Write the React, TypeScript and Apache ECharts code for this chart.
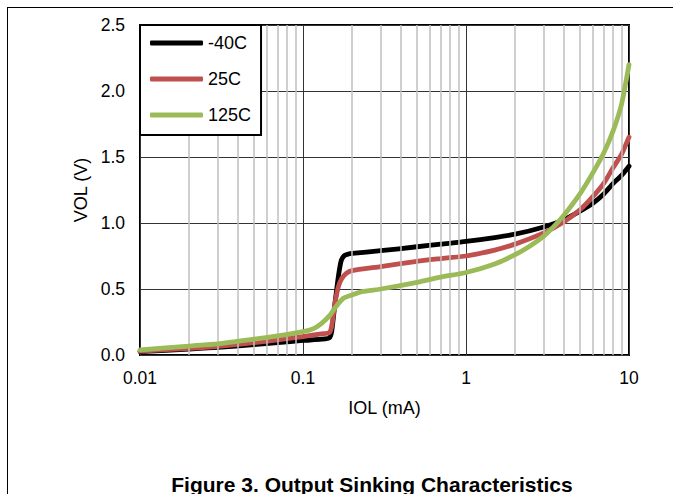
import React, { useEffect, useRef } from "react";
import * as echarts from "echarts";

const seriesNames = ["-40C", "25C", "125C"];
const seriesColors = ["#000000", "#C0504D", "#9BBB59"];

const coldData: [number, number][] = [
  [0.01, 0.025], [0.02, 0.045], [0.03, 0.058], [0.05, 0.078], [0.07, 0.093],
  [0.1, 0.11], [0.13, 0.12], [0.145, 0.13], [0.15, 0.18], [0.157, 0.39],
  [0.165, 0.6], [0.172, 0.72], [0.18, 0.755], [0.19, 0.765], [0.2, 0.77],
  [0.3, 0.79], [0.5, 0.82], [0.7, 0.84], [1, 0.86], [1.5, 0.89], [2, 0.915],
  [3, 0.97], [4, 1.025], [5, 1.09], [6, 1.15], [7, 1.22], [8, 1.3], [9, 1.36],
  [10, 1.43],
];

const roomData: [number, number][] = [
  [0.01, 0.03], [0.02, 0.05], [0.03, 0.065], [0.05, 0.093], [0.07, 0.115],
  [0.1, 0.14], [0.13, 0.16], [0.145, 0.17], [0.15, 0.22], [0.157, 0.39],
  [0.165, 0.52], [0.173, 0.58], [0.185, 0.62], [0.2, 0.64], [0.3, 0.67],
  [0.5, 0.71], [0.7, 0.73], [1, 0.75], [1.5, 0.795], [2, 0.84], [3, 0.925],
  [4, 1.01], [5, 1.1], [6, 1.2], [7, 1.3], [8, 1.42], [9, 1.52], [10, 1.65],
];

const hotData: [number, number][] = [
  [0.01, 0.038], [0.02, 0.068], [0.03, 0.085], [0.05, 0.12], [0.07, 0.145],
  [0.1, 0.177], [0.116, 0.2], [0.13, 0.24], [0.146, 0.3], [0.16, 0.37],
  [0.177, 0.43], [0.2, 0.455], [0.23, 0.48], [0.3, 0.5], [0.5, 0.55],
  [0.7, 0.59], [1, 0.625], [1.5, 0.69], [2, 0.76], [2.5, 0.83], [3, 0.9],
  [3.5, 0.98], [4, 1.06], [5, 1.22], [6, 1.38], [7, 1.53], [8, 1.7],
  [9, 1.9], [10, 2.2],
];

const minorGridValues = [
  0.02, 0.03, 0.04, 0.05, 0.06, 0.07, 0.08, 0.09,
  0.2, 0.3, 0.4, 0.5, 0.6, 0.7, 0.8, 0.9,
  2, 3, 4, 5, 6, 7, 8, 9,
];

const xAxisTitle = "IOL (mA)";
const yAxisTitle = "VOL (V)";
const figureTitle = "Figure 3. Output Sinking Characteristics";

export default function App() {
  const ref = useRef<HTMLDivElement>(null);

  useEffect(() => {
    if (!ref.current) return;
    const chart = echarts.init(ref.current, null, { renderer: "svg" });
    const font = "'Liberation Sans', Arial, sans-serif";
    const allData = [coldData, roomData, hotData];

    chart.setOption({
      animation: false,
      textStyle: { fontFamily: font },
      grid: {
        left: 140,
        top: 25,
        width: 489,
        height: 330,
        show: true,
        borderColor: "#000",
        borderWidth: 2,
        containLabel: false,
      },
      legend: {
        data: seriesNames,
        orient: "vertical",
        left: 140,
        top: 25,
        backgroundColor: "#fff",
        borderColor: "#000",
        borderWidth: 2,
        borderRadius: 0,
        padding: [9, 10, 11, 10],
        itemGap: 18,
        itemWidth: 53,
        itemHeight: 5,
        icon: "roundRect",
        textStyle: { fontSize: 18, color: "#000", fontFamily: font },
        selectedMode: false,
        z: 10,
      },
      xAxis: {
        type: "log",
        logBase: 10,
        min: 0.01,
        max: 10,
        name: xAxisTitle,
        nameLocation: "middle",
        nameGap: 44,
        nameTextStyle: { fontSize: 18, color: "#000", fontFamily: font },
        axisLine: { show: false },
        axisTick: { show: false },
        axisLabel: {
          fontSize: 17.5,
          color: "#000",
          margin: 14,
          fontFamily: font,
          formatter: (v: number) => String(Number(v.toPrecision(3))),
        },
        splitLine: { show: true, lineStyle: { color: "#333", width: 1 } },
      },
      yAxis: {
        type: "value",
        min: 0,
        max: 2.5,
        interval: 0.5,
        name: yAxisTitle,
        nameLocation: "middle",
        nameGap: 42,
        nameTextStyle: { fontSize: 18, color: "#000", fontFamily: font },
        axisLine: { show: false },
        axisTick: { show: false },
        axisLabel: {
          fontSize: 17.5,
          color: "#000",
          margin: 15,
          fontFamily: font,
          formatter: (v: number) => v.toFixed(1),
        },
        splitLine: { show: true, lineStyle: { color: "#333", width: 1 } },
      },
      graphic: [
        {
          type: "line",
          shape: { x1: 7, y1: 7.5, x2: 673, y2: 7.5 },
          style: { stroke: "#000", lineWidth: 1 },
        },
        {
          type: "line",
          shape: { x1: 7.5, y1: 7, x2: 7.5, y2: 494 },
          style: { stroke: "#000", lineWidth: 1 },
        },
        {
          type: "text",
          x: 372,
          y: 484,
          style: {
            text: figureTitle,
            fontSize: 21,
            fontWeight: "bold",
            fontFamily: font,
            fill: "#000",
            textAlign: "center",
            textVerticalAlign: "middle",
          },
        },
      ],
      series: [
        {
          name: "minor-grid",
          type: "line",
          data: [],
          silent: true,
          z: 1,
          markLine: {
            silent: true,
            symbol: ["none", "none"],
            label: { show: false },
            lineStyle: { color: "#BFBFBF", width: 1.5, type: "solid" },
            data: minorGridValues.map((v) => ({ xAxis: v })),
          },
        },
        ...seriesNames.map((name, i) => ({
          name,
          type: "line",
          data: allData[i],
          showSymbol: false,
          symbol: "none",
          smooth: 0.2,
          z: 3 + i,
          lineStyle: { color: seriesColors[i], width: 4.8, cap: "round", join: "round" },
          itemStyle: { color: seriesColors[i] },
        })),
      ],
    });

    return () => chart.dispose();
  }, []);

  return (
    <div
      ref={ref}
      style={{ position: "fixed", left: 0, top: 0, width: 673, height: 494, background: "#fff" }}
    />
  );
}
